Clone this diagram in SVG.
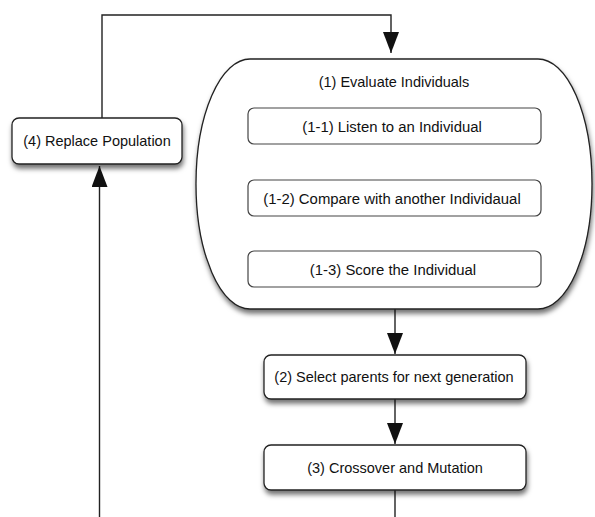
<svg xmlns="http://www.w3.org/2000/svg" width="595" height="517" viewBox="0 0 595 517">
<style>
.box{fill:#fff;stroke:#222;stroke-width:1.3;filter:url(#sh)}
.inner{fill:#fff;stroke:#444;stroke-width:1.2}
.lbl{font-family:"Liberation Sans",Arial,Helvetica,sans-serif;font-size:14.5px;fill:#111;text-anchor:middle}
.sm{font-size:14.9px}
.conn{fill:none;stroke:#222;stroke-width:1.4}
</style>
<defs>
<filter id="sh" x="-10%" y="-10%" width="125%" height="135%">
<feDropShadow dx="1" dy="4" stdDeviation="2.5" flood-color="#000" flood-opacity="0.55"/>
</filter>
<marker id="arr" markerUnits="userSpaceOnUse" markerWidth="22" markerHeight="16" refX="21" refY="8" orient="auto" viewBox="0 0 22 16">
<path d="M0,0 L21,8 L0,16 z" fill="#111"/>
</marker>
</defs>
<g id="connectors">
<path class="conn" d="M102,118 V15 H391 V53" marker-end="url(#arr)"/>
<path class="conn" d="M99.5,517 V166" marker-end="url(#arr)"/>
<path class="conn" d="M395,309 V354" marker-end="url(#arr)"/>
<path class="conn" d="M395,399 V444" marker-end="url(#arr)"/>
<path class="conn" d="M395,490 V517"/>
</g>
<g id="n1">
<rect class="box" x="196" y="59" width="396" height="250" rx="54" ry="125"/>
<text class="lbl" x="394" y="87">(1) Evaluate Individuals</text>
</g>
<g id="n1-1">
<rect class="inner" x="248" y="108" width="293" height="36" rx="6"/>
<text class="lbl sm" x="392" y="131.5">(1-1) Listen to an Individual</text>
</g>
<g id="n1-2">
<rect class="inner" x="248" y="180" width="293" height="36" rx="6"/>
<text class="lbl sm" x="392" y="203.5">(1-2) Compare with another Individaual</text>
</g>
<g id="n1-3">
<rect class="inner" x="248" y="251" width="293" height="36" rx="6"/>
<text class="lbl sm" x="393" y="274.5">(1-3) Score the Individual</text>
</g>
<g id="n2">
<rect class="box" x="264" y="355" width="262" height="44" rx="7"/>
<text class="lbl" x="394" y="382">(2) Select parents for next generation</text>
</g>
<g id="n3">
<rect class="box" x="264" y="445" width="262" height="45" rx="7"/>
<text class="lbl" x="395" y="472.5">(3) Crossover and Mutation</text>
</g>
<g id="n4">
<rect class="box" x="12" y="118" width="170" height="46" rx="7"/>
<text class="lbl" x="97" y="146">(4) Replace Population</text>
</g>
</svg>
